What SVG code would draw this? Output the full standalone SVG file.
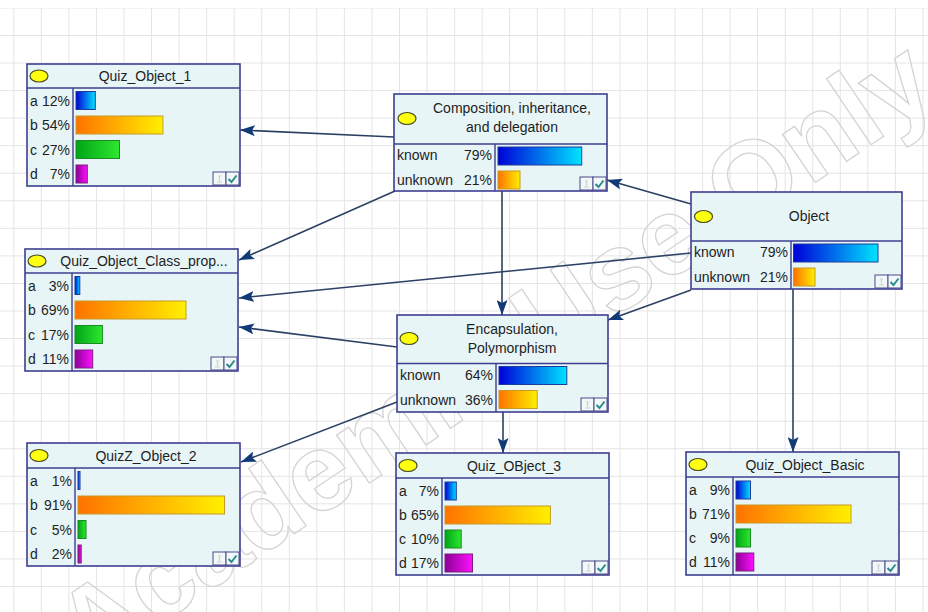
<svg xmlns="http://www.w3.org/2000/svg" width="928" height="612" viewBox="0 0 928 612">
  <defs>
    <pattern id="grid" patternUnits="userSpaceOnUse" x="13.3" y="7.45" width="27.55" height="27.55">
      <path d="M0.5,0 V27.55 M0,0.5 H27.55" fill="none" stroke="#e4e4e4" stroke-width="1"/>
    </pattern>
    <linearGradient id="gBlue" x1="0" y1="0" x2="1" y2="0">
      <stop offset="0" stop-color="#0000d8"/>
      <stop offset="1" stop-color="#00e4ff"/>
    </linearGradient>
    <linearGradient id="gOrange" x1="0" y1="0" x2="1" y2="0">
      <stop offset="0" stop-color="#ff7200"/>
      <stop offset="1" stop-color="#fff000"/>
    </linearGradient>
    <linearGradient id="gGreen" x1="0" y1="0" x2="1" y2="0">
      <stop offset="0" stop-color="#00a418"/>
      <stop offset="1" stop-color="#2ee82e"/>
    </linearGradient>
    <linearGradient id="gMagenta" x1="0" y1="0" x2="1" y2="0">
      <stop offset="0" stop-color="#8c0094"/>
      <stop offset="1" stop-color="#ff10ff"/>
    </linearGradient>
    <marker id="arrow" markerUnits="userSpaceOnUse" markerWidth="15" markerHeight="11" refX="15" refY="5.5" orient="auto">
      <path d="M0,0 L15,5.5 L0,11 L3,5.5 z" fill="#123a76"/>
    </marker>
    <!-- bottom-right status icons of a node -->
    <g id="icons">
      <rect x="0" y="0" width="13" height="13" fill="#f2f8f8" stroke="#4a4a8a" stroke-width="1"/>
      <path d="M5,4 h3 M6.5,4 v5 M4,10 h5" stroke="#cfcfcf" stroke-width="1.2" fill="none"/>
      <rect x="13" y="0" width="13" height="13" fill="#f2f8f8" stroke="#4a4a8a" stroke-width="1"/>
      <path d="M15.5,7 L18.5,10 L23.5,3.5" stroke="#2a8c8c" stroke-width="2" fill="none"/>
    </g>
  </defs>
  <style>
    .box { fill: #e7f5f7; stroke: #3e3e90; stroke-width: 1.6; }
    .sep { stroke: #3e3e90; stroke-width: 1.4; }
    .oval { fill: #ffff10; stroke: #4a4a20; stroke-width: 1.2; }
    .title { font-family: "Liberation Sans", Arial, sans-serif; font-size: 14px; fill: #1e1e1e; text-anchor: middle; }
    .lbl { font-family: "Liberation Sans", Arial, sans-serif; font-size: 14px; fill: #1e1e1e; }
    .pct { text-anchor: end; }
    .bBlue { fill: url(#gBlue); stroke: #1c3c9c; stroke-width: 1; }
    .bOrange { fill: url(#gOrange); stroke: #c89a24; stroke-width: 1; }
    .bGreen { fill: url(#gGreen); stroke: #1a8a22; stroke-width: 1; }
    .bMagenta { fill: url(#gMagenta); stroke: #7a207a; stroke-width: 1; }
    .link { fill: none; stroke: #2c4064; stroke-width: 1.6; marker-end: url(#arrow); }
    .mark { font-family: "Liberation Sans", Arial, sans-serif; font-size: 110px; font-weight: bold; fill: none; stroke: #d4d4d4; stroke-width: 1.3; }
  </style>

  <rect width="928" height="612" fill="#ffffff"/>
  <rect x="0" y="8" width="928" height="604" fill="url(#grid)"/>

  <!-- watermark -->
  <text class="mark" x="0" y="0" text-anchor="middle" transform="translate(515,385) rotate(-34)">Academic Use Only</text>

  <!-- connectors -->
  <g id="connectors">
    <path class="link" d="M394,137 L240,130"/>
    <path class="link" d="M395,191 L239,260"/>
    <path class="link" d="M691,253 L239,298"/>
    <path class="link" d="M397,347 L239,327"/>
    <path class="link" d="M397,402 L241,462"/>
    <path class="link" d="M502,191 L502,315"/>
    <path class="link" d="M691,204 L607,180"/>
    <path class="link" d="M691,290 L608,320"/>
    <path class="link" d="M503,412 L503,453"/>
    <path class="link" d="M793,289 L793,452"/>
  </g>

  <!-- Quiz_Object_1 -->
  <g id="quiz-object-1" transform="translate(27,64)">
    <rect class="box" width="213" height="122"/>
    <line class="sep" x1="0" y1="24" x2="213" y2="24"/>
    <line class="sep" x1="46" y1="24" x2="46" y2="122"/>
    <ellipse class="oval" cx="12" cy="12" rx="9" ry="6"/>
    <text class="title" x="118" y="17">Quiz_Object_1</text>
    <text class="lbl" x="3" y="41.5">a</text><text class="lbl pct" x="43" y="41.5">12%</text>
    <text class="lbl" x="3" y="66">b</text><text class="lbl pct" x="43" y="66">54%</text>
    <text class="lbl" x="3" y="90.5">c</text><text class="lbl pct" x="43" y="90.5">27%</text>
    <text class="lbl" x="3" y="115">d</text><text class="lbl pct" x="43" y="115">7%</text>
    <rect class="bBlue" x="49" y="27.5" width="19.3" height="18"/>
    <rect class="bOrange" x="49" y="52" width="86.9" height="18"/>
    <rect class="bGreen" x="49" y="76.5" width="43.5" height="18"/>
    <rect class="bMagenta" x="49" y="101" width="11.3" height="18"/>
    <use href="#icons" x="186" y="108"/>
  </g>

  <!-- Quiz_Object_Class_prop... -->
  <g id="quiz-object-class-prop" transform="translate(25,249)">
    <rect class="box" width="213" height="122"/>
    <line class="sep" x1="0" y1="24" x2="213" y2="24"/>
    <line class="sep" x1="47" y1="24" x2="47" y2="122"/>
    <ellipse class="oval" cx="12" cy="12" rx="9" ry="6"/>
    <text class="title" x="119" y="17">Quiz_Object_Class_prop...</text>
    <text class="lbl" x="3" y="41.5">a</text><text class="lbl pct" x="44" y="41.5">3%</text>
    <text class="lbl" x="3" y="66">b</text><text class="lbl pct" x="44" y="66">69%</text>
    <text class="lbl" x="3" y="90.5">c</text><text class="lbl pct" x="44" y="90.5">17%</text>
    <text class="lbl" x="3" y="115">d</text><text class="lbl pct" x="44" y="115">11%</text>
    <rect class="bBlue" x="50" y="27.5" width="4.8" height="18"/>
    <rect class="bOrange" x="50" y="52" width="111" height="18"/>
    <rect class="bGreen" x="50" y="76.5" width="27.4" height="18"/>
    <rect class="bMagenta" x="50" y="101" width="17.7" height="18"/>
    <use href="#icons" x="186" y="108"/>
  </g>

  <!-- QuizZ_Object_2 -->
  <g id="quizz-object-2" transform="translate(27,443)">
    <rect class="box" width="213" height="123"/>
    <line class="sep" x1="0" y1="25" x2="213" y2="25"/>
    <line class="sep" x1="48" y1="25" x2="48" y2="123"/>
    <ellipse class="oval" cx="12" cy="12.5" rx="9" ry="6"/>
    <text class="title" x="119" y="18">QuizZ_Object_2</text>
    <text class="lbl" x="3" y="42.5">a</text><text class="lbl pct" x="45" y="42.5">1%</text>
    <text class="lbl" x="3" y="67">b</text><text class="lbl pct" x="45" y="67">91%</text>
    <text class="lbl" x="3" y="91.5">c</text><text class="lbl pct" x="45" y="91.5">5%</text>
    <text class="lbl" x="3" y="116">d</text><text class="lbl pct" x="45" y="116">2%</text>
    <rect class="bBlue" x="51" y="28.5" width="2" height="18"/>
    <rect class="bOrange" x="51" y="53" width="146.5" height="18"/>
    <rect class="bGreen" x="51" y="77.5" width="8" height="18"/>
    <rect class="bMagenta" x="51" y="102" width="3.2" height="18"/>
    <use href="#icons" x="186" y="109"/>
  </g>

  <!-- Quiz_OBject_3 -->
  <g id="quiz-object-3" transform="translate(396,453)">
    <rect class="box" width="213" height="122"/>
    <line class="sep" x1="0" y1="25" x2="213" y2="25"/>
    <line class="sep" x1="46" y1="25" x2="46" y2="122"/>
    <ellipse class="oval" cx="12" cy="12.5" rx="9" ry="6"/>
    <text class="title" x="118" y="18">Quiz_OBject_3</text>
    <text class="lbl" x="3" y="43">a</text><text class="lbl pct" x="43" y="43">7%</text>
    <text class="lbl" x="3" y="67">b</text><text class="lbl pct" x="43" y="67">65%</text>
    <text class="lbl" x="3" y="91">c</text><text class="lbl pct" x="43" y="91">10%</text>
    <text class="lbl" x="3" y="115">d</text><text class="lbl pct" x="43" y="115">17%</text>
    <rect class="bBlue" x="49" y="29" width="11.3" height="18"/>
    <rect class="bOrange" x="49" y="53" width="105.4" height="18"/>
    <rect class="bGreen" x="49" y="77" width="16.2" height="18"/>
    <rect class="bMagenta" x="49" y="101" width="27.5" height="18"/>
    <use href="#icons" x="186" y="108"/>
  </g>

  <!-- Quiz_Object_Basic -->
  <g id="quiz-object-basic" transform="translate(686,452)">
    <rect class="box" width="213" height="123"/>
    <line class="sep" x1="0" y1="25" x2="213" y2="25"/>
    <line class="sep" x1="47" y1="25" x2="47" y2="123"/>
    <ellipse class="oval" cx="12" cy="12.5" rx="9" ry="6"/>
    <text class="title" x="119" y="18">Quiz_Object_Basic</text>
    <text class="lbl" x="3" y="43">a</text><text class="lbl pct" x="44" y="43">9%</text>
    <text class="lbl" x="3" y="67">b</text><text class="lbl pct" x="44" y="67">71%</text>
    <text class="lbl" x="3" y="91">c</text><text class="lbl pct" x="44" y="91">9%</text>
    <text class="lbl" x="3" y="115">d</text><text class="lbl pct" x="44" y="115">11%</text>
    <rect class="bBlue" x="50" y="29" width="14.5" height="18"/>
    <rect class="bOrange" x="50" y="53" width="115" height="18"/>
    <rect class="bGreen" x="50" y="77" width="14.5" height="18"/>
    <rect class="bMagenta" x="50" y="101" width="17.8" height="18"/>
    <use href="#icons" x="186" y="109"/>
  </g>

  <!-- Composition, inheritance, and delegation -->
  <g id="composition" transform="translate(394,94)">
    <rect class="box" width="213" height="97"/>
    <line class="sep" x1="0" y1="50" x2="213" y2="50"/>
    <line class="sep" x1="101" y1="50" x2="101" y2="97"/>
    <ellipse class="oval" cx="13" cy="24.5" rx="9" ry="6"/>
    <text class="title" x="118" y="19">Composition, inheritance,</text>
    <text class="title" x="118" y="38">and delegation</text>
    <text class="lbl" x="3" y="66">known</text><text class="lbl pct" x="98" y="66">79%</text>
    <text class="lbl" x="3" y="90.5">unknown</text><text class="lbl pct" x="98" y="90.5">21%</text>
    <rect class="bBlue" x="104" y="53" width="83.7" height="18"/>
    <rect class="bOrange" x="104" y="77" width="22" height="18"/>
    <use href="#icons" x="186" y="83"/>
  </g>

  <!-- Object -->
  <g id="object" transform="translate(691,192)">
    <rect class="box" width="211" height="97"/>
    <line class="sep" x1="0" y1="49" x2="211" y2="49"/>
    <line class="sep" x1="100" y1="49" x2="100" y2="97"/>
    <ellipse class="oval" cx="12.5" cy="24.5" rx="9" ry="6"/>
    <text class="title" x="118" y="29">Object</text>
    <text class="lbl" x="3" y="65">known</text><text class="lbl pct" x="97" y="65">79%</text>
    <text class="lbl" x="3" y="89.5">unknown</text><text class="lbl pct" x="97" y="89.5">21%</text>
    <rect class="bBlue" x="102.5" y="52" width="84.5" height="18"/>
    <rect class="bOrange" x="102.5" y="76" width="21.5" height="18"/>
    <use href="#icons" x="184" y="83"/>
  </g>

  <!-- Encapsulation, Polymorphism -->
  <g id="encapsulation" transform="translate(397,315)">
    <rect class="box" width="211" height="97"/>
    <line class="sep" x1="0" y1="48.5" x2="211" y2="48.5"/>
    <line class="sep" x1="99" y1="48.5" x2="99" y2="97"/>
    <ellipse class="oval" cx="12" cy="23.5" rx="9" ry="6"/>
    <text class="title" x="115" y="18.5">Encapsulation,</text>
    <text class="title" x="115" y="38">Polymorphism</text>
    <text class="lbl" x="3" y="65">known</text><text class="lbl pct" x="96" y="65">64%</text>
    <text class="lbl" x="3" y="89.5">unknown</text><text class="lbl pct" x="96" y="89.5">36%</text>
    <rect class="bBlue" x="102" y="51.5" width="67.8" height="18"/>
    <rect class="bOrange" x="102" y="75.5" width="38.2" height="18"/>
    <use href="#icons" x="184" y="83"/>
  </g>
</svg>
